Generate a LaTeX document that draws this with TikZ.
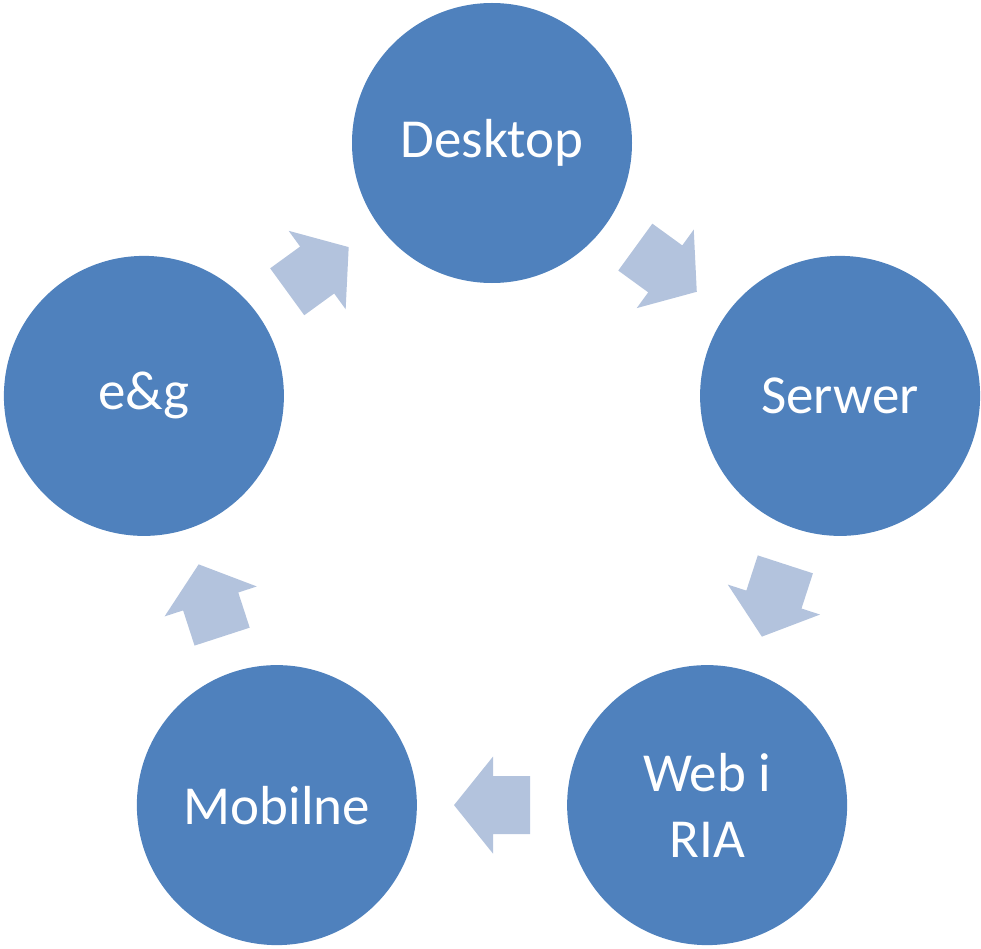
\documentclass[tikz,border=0pt]{standalone}
\usepackage{fontspec}
\setmainfont{Carlito}
\usepackage{tikz}
\usetikzlibrary{calc}
\definecolor{stageblue}{HTML}{4F81BD}
\definecolor{arrowblue}{HTML}{B3C3DD}
\tikzset{
    cycle diagram/.style={
            x=1pt,y=1pt,
            stage/.style={circle,fill=stageblue,text=white,minimum size=280pt,
                    inner sep=0pt,align=center,font=\fontsize{55}{66}\selectfont},
            blockarrow/.style={fill=arrowblue}
        }
    }

\begin{document}
\begin{tikzpicture}[cycle diagram]
    \useasboundingbox (-492,-439) rectangle (489,509);
    \node [stage] (D) at (90:366) {Desktop};
    \node [stage] (S) at (18:366) {Serwer};
    \node [stage] (W) at (-54:366) {Web i\\RIA};
    \node [stage] (M) at (-126:366) {Mobilne};
    \node [stage] (E) at (162:366) {e\&g};
    \foreach \from/\to/\ang in {D/S/-36,S/W/-108,W/M/180,M/E/108,E/D/36}
        \fill [blockarrow, shift={($(\from)!0.5!(\to)$)}, rotate=\ang]
            (-38,-29) -- (-1,-29) -- (-1,-48.5) -- (38,0) -- (-1,48.5) -- (-1,29) -- (-38,29) -- cycle;
\end{tikzpicture}
\end{document}
